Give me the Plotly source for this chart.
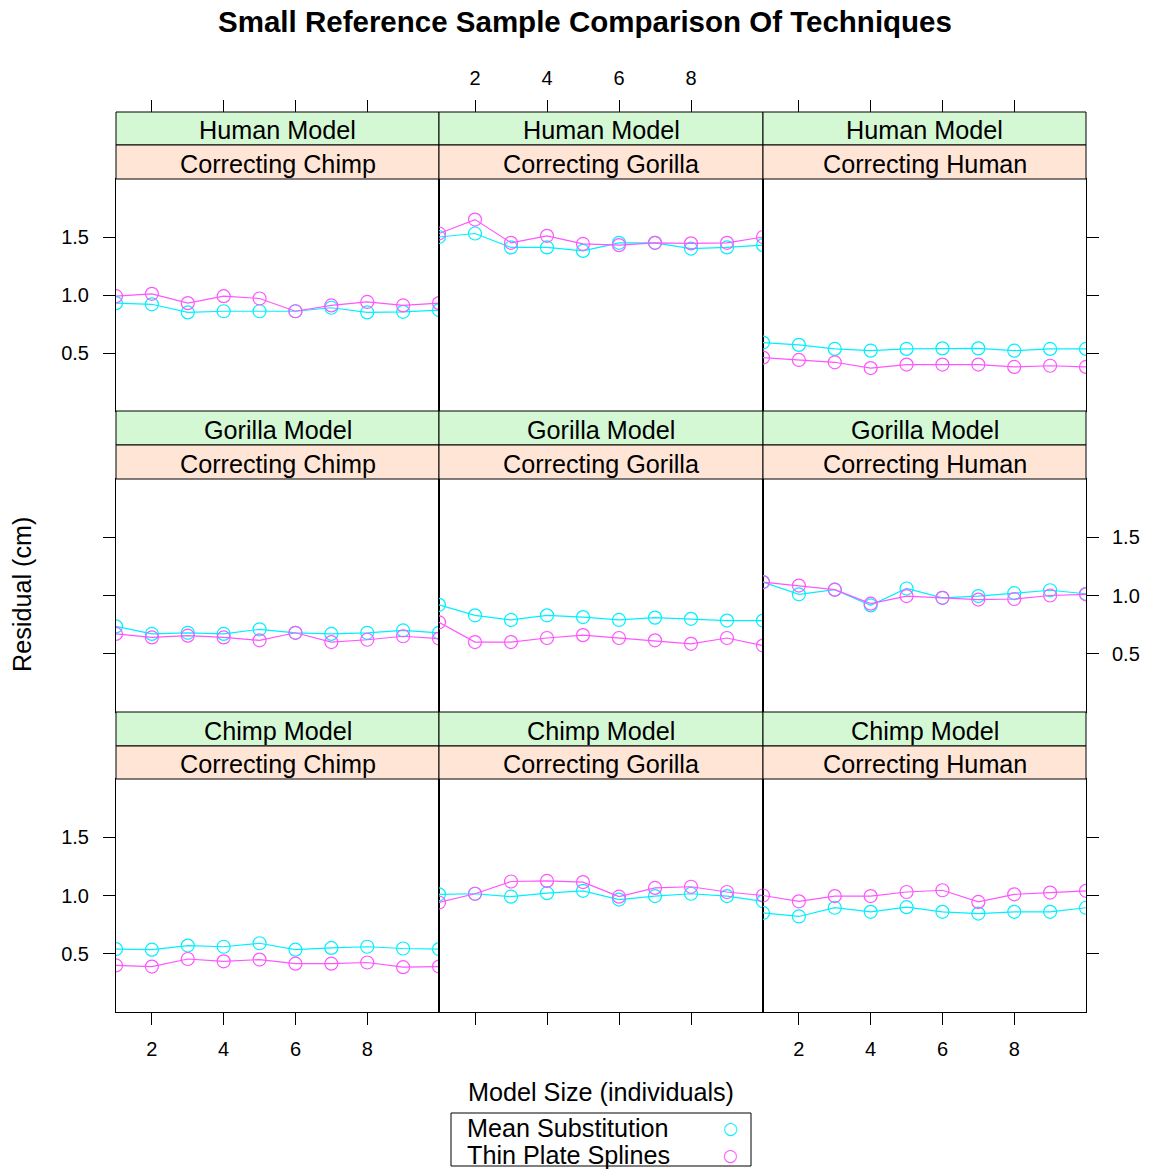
import plotly.graph_objects as go

# ---------------- data ----------------
model_size = [1, 2, 3, 4, 5, 6, 7, 8, 9, 10]
x_ticks = [2, 4, 6, 8]
y_ticks = [0.5, 1.0, 1.5]
y_tick_text = ["0.5", "1.0", "1.5"]
models = ["Human Model", "Gorilla Model", "Chimp Model"]
targets = ["Correcting Chimp", "Correcting Gorilla", "Correcting Human"]
series_names = ["Mean Substitution", "Thin Plate Splines"]

mean_sub_human_chimp = [0.93, 0.92, 0.85, 0.86, 0.86, 0.86, 0.89, 0.85, 0.855, 0.87]
tps_human_chimp = [0.99, 1.01, 0.93, 0.99, 0.97, 0.86, 0.91, 0.94, 0.91, 0.93]
mean_sub_human_gorilla = [1.50, 1.53, 1.41, 1.41, 1.38, 1.45, 1.45, 1.40, 1.41, 1.43]
tps_human_gorilla = [1.53, 1.65, 1.45, 1.51, 1.44, 1.43, 1.45, 1.445, 1.45, 1.50]
mean_sub_human_human = [0.59, 0.57, 0.535, 0.52, 0.535, 0.54, 0.54, 0.52, 0.535, 0.535]
tps_human_human = [0.46, 0.44, 0.42, 0.37, 0.40, 0.40, 0.40, 0.38, 0.39, 0.38]

mean_sub_gorilla_chimp = [0.735, 0.67, 0.68, 0.67, 0.71, 0.68, 0.67, 0.68, 0.70, 0.68]
tps_gorilla_chimp = [0.67, 0.64, 0.655, 0.64, 0.615, 0.68, 0.60, 0.62, 0.65, 0.63]
mean_sub_gorilla_gorilla = [0.92, 0.83, 0.79, 0.83, 0.815, 0.79, 0.81, 0.80, 0.785, 0.785]
tps_gorilla_gorilla = [0.77, 0.60, 0.60, 0.635, 0.66, 0.635, 0.615, 0.585, 0.635, 0.57]
mean_sub_gorilla_human = [1.115, 1.01, 1.05, 0.915, 1.06, 0.98, 0.995, 1.02, 1.045, 1.015]
tps_gorilla_human = [1.115, 1.085, 1.05, 0.93, 0.995, 0.98, 0.965, 0.97, 1.0, 1.01]

mean_sub_chimp_chimp = [0.54, 0.535, 0.57, 0.56, 0.59, 0.535, 0.55, 0.56, 0.545, 0.54]
tps_chimp_chimp = [0.40, 0.39, 0.455, 0.435, 0.45, 0.415, 0.415, 0.425, 0.385, 0.39]
mean_sub_chimp_gorilla = [1.01, 1.015, 0.99, 1.02, 1.04, 0.965, 0.995, 1.015, 0.995, 0.95]
tps_chimp_gorilla = [0.94, 1.015, 1.12, 1.125, 1.115, 0.99, 1.065, 1.075, 1.03, 1.0]
mean_sub_chimp_human = [0.85, 0.82, 0.895, 0.86, 0.90, 0.86, 0.845, 0.86, 0.86, 0.895]
tps_chimp_human = [1.0, 0.95, 0.995, 0.995, 1.03, 1.045, 0.945, 1.01, 1.025, 1.04]

panel_data = [
    [(mean_sub_human_chimp, tps_human_chimp), (mean_sub_human_gorilla, tps_human_gorilla), (mean_sub_human_human, tps_human_human)],
    [(mean_sub_gorilla_chimp, tps_gorilla_chimp), (mean_sub_gorilla_gorilla, tps_gorilla_gorilla), (mean_sub_gorilla_human, tps_gorilla_human)],
    [(mean_sub_chimp_chimp, tps_chimp_chimp), (mean_sub_chimp_gorilla, tps_chimp_gorilla), (mean_sub_chimp_human, tps_chimp_human)],
]

# ---------------- styling / layout ----------------
PAGE_MARGIN = 8            # default <body> margin of the html page
W, H = 1155 - PAGE_MARGIN, 1169 - PAGE_MARGIN
FONT = "Liberation Sans, Arial, Helvetica, sans-serif"
colors = ["#00F0FF", "#FF55FF"]
GREEN = "#D4F8D4"
PEACH = "#FFE5D5"
TXT = 25.2

col_px = [(116, 439), (439, 763), (763, 1086)]
row_px = [(179, 411), (479, 712), (779, 1012)]
strip_green_px = [(112, 145), (411, 445), (712, 746)]
strip_peach_px = [(145, 179), (445, 479), (746, 779)]

def fx(px):
    return (px - PAGE_MARGIN) / W

def fy(py):
    return 1 - (py - PAGE_MARGIN) / H

def ax_name(prefix, k):
    return prefix if k == 1 else f"{prefix}{k}"

fig = go.Figure()
layout = {}
common_axis = dict(showgrid=False, zeroline=False, linecolor="black", linewidth=1,
                   tickcolor="black", ticklen=12, tickwidth=1,
                   tickfont=dict(family=FONT, size=20, color="black"))

for r in range(3):
    for c in range(3):
        k = r * 3 + c + 1
        ms, tps = panel_data[r][c]
        xref, yref = ax_name("x", k), ax_name("y", k)
        for s, vals in enumerate((ms, tps)):
            fig.add_trace(go.Scatter(x=model_size, y=vals, mode="lines+markers", name=series_names[s],
                                     line=dict(color=colors[s], width=1.2),
                                     marker=dict(symbol="circle-open", size=13, color=colors[s],
                                                 line=dict(width=1.2)),
                                     xaxis=xref, yaxis=yref, showlegend=False))
        xa = dict(common_axis, domain=[fx(col_px[c][0]), fx(col_px[c][1])], anchor=yref,
                  range=[1, 10], showline=True, mirror=True, tickvals=x_ticks,
                  ticks="", showticklabels=False)
        if r == 2:
            xa.update(ticks="outside", showticklabels=(c != 1), ticklabelstandoff=7)
        ya = dict(common_axis, domain=[fy(row_px[r][1]), fy(row_px[r][0])], anchor=xref,
                  range=[0, 2], showline=True, mirror=True, tickvals=y_ticks, ticktext=y_tick_text,
                  ticks="", showticklabels=False)
        if c == 0:
            ya.update(ticks="outside", showticklabels=(r != 1), ticklabelstandoff=10)
        layout[ax_name("xaxis", k)] = xa
        layout[ax_name("yaxis", k)] = ya

# top tick axes (above the strips)
for c in range(3):
    k = 10 + c
    base = ax_name("x", c + 1)
    layout[f"xaxis{k}"] = dict(common_axis, overlaying=base, side="top", anchor="free",
                               position=fy(112), range=[1, 10], tickvals=x_ticks,
                               ticks="outside", showticklabels=(c == 1), showline=False,
                               ticklabelstandoff=7)
    fig.add_trace(go.Scatter(x=[], y=[], xaxis=f"x{k}", yaxis=ax_name("y", c + 1),
                             showlegend=False, hoverinfo="skip"))

# right tick axes
for r in range(3):
    k = 13 + r
    base_k = r * 3 + 3
    layout[f"yaxis{k}"] = dict(common_axis, overlaying=ax_name("y", base_k), side="right",
                               anchor=ax_name("x", base_k), range=[0, 2], tickvals=y_ticks,
                               ticktext=y_tick_text, ticks="outside", showticklabels=(r == 1),
                               showline=False, ticklabelstandoff=9)
    fig.add_trace(go.Scatter(x=[], y=[], xaxis=ax_name("x", base_k), yaxis=f"y{k}",
                             showlegend=False, hoverinfo="skip"))

shapes = []
annotations = []
for r in range(3):
    for c in range(3):
        x0, x1 = col_px[c]
        for (y0, y1), fill, label in ((strip_green_px[r], GREEN, models[r]),
                                      (strip_peach_px[r], PEACH, targets[c])):
            shapes.append(dict(type="rect", xref="paper", yref="paper",
                               x0=fx(x0), x1=fx(x1), y0=fy(y1), y1=fy(y0),
                               fillcolor=fill, line=dict(color="black", width=1), layer="above"))
            annotations.append(dict(text=label, xref="paper", yref="paper",
                                    x=fx((x0 + x1) / 2), y=fy((y0 + y1) / 2 + 1.5),
                                    xanchor="center", yanchor="middle", showarrow=False,
                                    font=dict(family=FONT, size=TXT, color="black")))

annotations.append(dict(text="Residual (cm)", xref="paper", yref="paper", x=fx(22), y=fy(595),
                        xanchor="center", yanchor="middle", textangle=-90, showarrow=False,
                        font=dict(family=FONT, size=TXT, color="black")))
annotations.append(dict(text="Model Size (individuals)", xref="paper", yref="paper",
                        x=fx(601), y=fy(1092), xanchor="center", yanchor="middle", showarrow=False,
                        font=dict(family=FONT, size=TXT, color="black")))

# key (lattice style: labels left, symbols right)
shapes.append(dict(type="rect", xref="paper", yref="paper",
                   x0=fx(451), x1=fx(751), y0=fy(1166), y1=fy(1113),
                   fillcolor="white", line=dict(color="black", width=1), layer="above"))
for s, ypx in enumerate((1128, 1155)):
    annotations.append(dict(text=series_names[s], xref="paper", yref="paper",
                            x=fx(465), y=fy(ypx), xanchor="left", yanchor="middle", showarrow=False,
                            font=dict(family=FONT, size=TXT, color="black")))
    annotations.append(dict(text="○", xref="paper", yref="paper",
                            x=fx(730), y=fy(ypx), xanchor="center", yanchor="middle", showarrow=False,
                            font=dict(family="DejaVu Sans", size=17, color=colors[s])))

fig.update_layout(
    width=W, height=H,
    margin=dict(l=0, r=0, t=0, b=0),
    paper_bgcolor="white", plot_bgcolor="white",
    showlegend=False,
    title=dict(text="<b>Small Reference Sample Comparison Of Techniques</b>",
               x=fx(585), y=fy(22), xanchor="center", yanchor="middle",
               font=dict(family=FONT, size=29.5, color="black")),
    shapes=shapes, annotations=annotations,
    **layout,
)

fig.write_html("out.html")
